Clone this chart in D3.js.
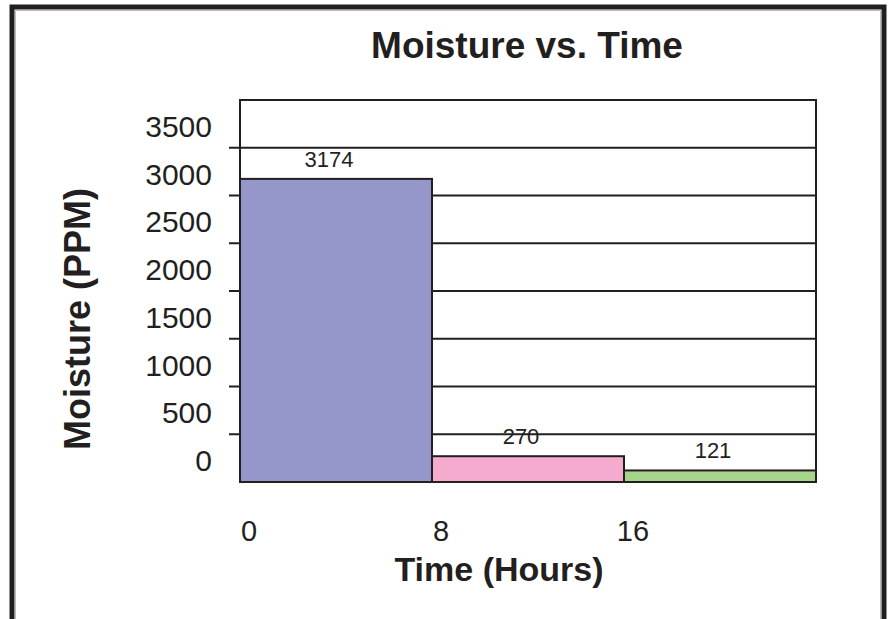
<!DOCTYPE html>
<html>
<head>
<meta charset="utf-8">
<script src="https://cdn.jsdelivr.net/npm/d3@7"></script>
<style>
    body { margin: 0; background: #fff; }
    svg { display: block; font-family: 'Liberation Sans', Arial, Helvetica, sans-serif; }
</style>
</head>
<body>
<svg id="chart" width="889" height="619"></svg>
<script>
// chart data
const hours = [0, 8, 16];
const hoursEnd = [8, 16, 24];
const moisture = [3174, 270, 121];
const barColours = ['#9596c9', '#f5abce', '#a6d48b'];
const yTicks = [0, 500, 1000, 1500, 2000, 2500, 3000, 3500];
const titleText = 'Moisture vs. Time';
const yTitle = 'Moisture (PPM)';
const xTitle = 'Time (Hours)';

const ink = '#231f20';
const height = 619;
const plot = { left: 240, right: 816, top: 100, bottom: 482 };

const svg = d3.select('#chart');

// outer frame, open at the bottom
svg.append('path')
    .attr('d', `M12,${height + 5}V7H884V${height + 5}`)
    .attr('fill', 'none')
    .attr('stroke', ink)
    .attr('stroke-width', 5);
svg.append('path')
    .attr('d', `M15.5,${height + 5}V10.5H880.5V${height + 5}`)
    .attr('fill', 'none')
    .attr('stroke', '#bdbdbd')
    .attr('stroke-width', 1);

const xScale = d3.scaleLinear()
    .domain([0, 24])
    .range([plot.left, plot.right]);

const yScale = d3.scaleLinear()
    .domain([0, 4000])
    .range([plot.bottom, plot.top]);

const bars = hours.map((h, i) => ({
    start: h,
    end: hoursEnd[i],
    value: moisture[i],
    colour: barColours[i],
}));

// plot frame
svg.append('rect')
    .attr('x', plot.left)
    .attr('y', plot.top)
    .attr('width', plot.right - plot.left)
    .attr('height', plot.bottom - plot.top)
    .attr('fill', '#fff')
    .attr('stroke', ink)
    .attr('stroke-width', 2);

// gridlines with a short tick out to the left
svg.append('g')
    .selectAll('line')
    .data(yTicks.filter(d => d > 0))
    .enter()
    .append('line')
    .attr('x1', plot.left - 11)
    .attr('x2', plot.right)
    .attr('y1', d => yScale(d))
    .attr('y2', d => yScale(d))
    .attr('stroke', ink)
    .attr('stroke-width', 2);

// tick labels sit just above their gridline
svg.append('g')
    .selectAll('text')
    .data(yTicks)
    .enter()
    .append('text')
    .attr('x', 212)
    .attr('y', d => yScale(d) - 11)
    .attr('text-anchor', 'end')
    .attr('font-size', 30)
    .attr('fill', ink)
    .text(d => d);

// bars
svg.append('g')
    .selectAll('rect')
    .data(bars)
    .enter()
    .append('rect')
    .attr('x', d => xScale(d.start))
    .attr('y', d => yScale(d.value))
    .attr('width', d => xScale(d.end) - xScale(d.start))
    .attr('height', d => yScale(0) - yScale(d.value))
    .attr('fill', d => d.colour)
    .attr('stroke', ink)
    .attr('stroke-width', 2);

// value labels
svg.append('g')
    .selectAll('text')
    .data(bars)
    .enter()
    .append('text')
    .attr('x', d => (xScale(d.start) + xScale(d.end)) / 2 - 7)
    .attr('y', d => yScale(d.value) - 12)
    .attr('text-anchor', 'middle')
    .attr('font-size', 22)
    .attr('fill', ink)
    .text(d => d.value);

// x labels
svg.append('g')
    .selectAll('text')
    .data(hours)
    .enter()
    .append('text')
    .attr('x', d => xScale(d) + 9)
    .attr('y', 541)
    .attr('text-anchor', 'middle')
    .attr('font-size', 29)
    .attr('fill', ink)
    .text(d => d);

// titles
svg.append('text')
    .attr('x', 527)
    .attr('y', 58)
    .attr('text-anchor', 'middle')
    .attr('font-size', 37)
    .attr('font-weight', 'bold')
    .attr('fill', ink)
    .text(titleText);

svg.append('text')
    .attr('x', 499)
    .attr('y', 581)
    .attr('text-anchor', 'middle')
    .attr('font-size', 34)
    .attr('font-weight', 'bold')
    .attr('fill', ink)
    .text(xTitle);

svg.append('text')
    .attr('transform', 'translate(90,319) rotate(-90)')
    .attr('text-anchor', 'middle')
    .attr('font-size', 36)
    .attr('font-weight', 'bold')
    .attr('fill', ink)
    .text(yTitle);
</script>
</body>
</html>
